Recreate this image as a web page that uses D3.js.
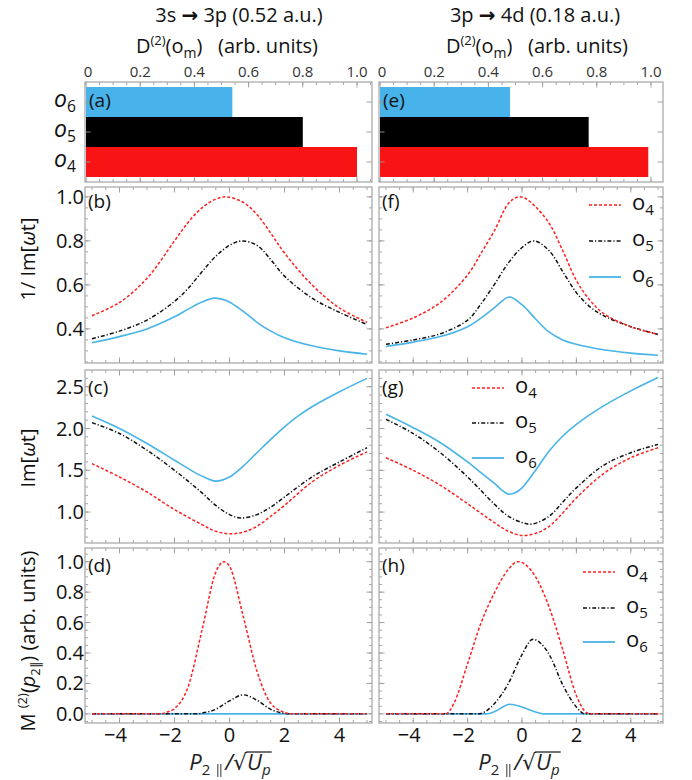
<!DOCTYPE html>
<html>
<head>
<meta charset="utf-8">
<script src="https://cdn.jsdelivr.net/npm/d3@7"></script>
<style>
body { margin: 0; background: #fff; }
</style>
</head>
<body>
<div id="chart-area"></div>
<script>
// ---- data ----
var orders = ["o4", "o5", "o6"];
var barOrder = ["o6", "o5", "o4"];

// D^(2)(o_m), arb. units
var d2_3s3p = [1.0, 0.80, 0.54];
var d2_3p4d = [0.99, 0.77, 0.48];
var d2Ticks = [0, 0.2, 0.4, 0.6, 0.8, 1.0];

// 1/Im[wt] vs p2||/sqrt(Up)
var inv3s_o4 = [[-5, 0.46], [-4, 0.52], [-3, 0.63], [-2, 0.80], [-1.5, 0.885], [-1, 0.95], [-0.5, 0.99], [-0.1, 1.0], [0.5, 0.975], [1, 0.92], [1.5, 0.835], [2, 0.745], [3, 0.60], [4, 0.495], [5, 0.43]];
var inv3s_o5 = [[-5, 0.355], [-4, 0.39], [-3, 0.44], [-2, 0.525], [-1.5, 0.585], [-1, 0.66], [-0.5, 0.73], [0, 0.78], [0.45, 0.80], [1, 0.78], [1.5, 0.715], [2, 0.64], [3, 0.54], [4, 0.475], [5, 0.42]];
var inv3s_o6 = [[-5, 0.337], [-4, 0.365], [-3, 0.40], [-2, 0.455], [-1.5, 0.49], [-1, 0.522], [-0.55, 0.54], [-0.1, 0.528], [0.5, 0.48], [1, 0.43], [1.5, 0.39], [2, 0.36], [3, 0.323], [4, 0.30], [5, 0.285]];
var inv3p_o4 = [[-5, 0.405], [-4, 0.45], [-3, 0.52], [-2, 0.645], [-1.5, 0.745], [-1, 0.85], [-0.5, 0.97], [-0.15, 1.0], [0.1, 0.995], [0.5, 0.955], [1, 0.88], [1.5, 0.755], [2, 0.62], [2.5, 0.53], [3, 0.47], [4, 0.41], [5, 0.375]];
var inv3p_o5 = [[-5, 0.33], [-4, 0.35], [-3, 0.378], [-2, 0.44], [-1.5, 0.515], [-1, 0.605], [-0.5, 0.70], [0, 0.77], [0.45, 0.80], [1, 0.755], [1.5, 0.66], [2, 0.565], [2.5, 0.50], [3, 0.46], [4, 0.41], [5, 0.375]];
var inv3p_o6 = [[-5, 0.32], [-4, 0.34], [-3, 0.365], [-2, 0.41], [-1.5, 0.45], [-1, 0.498], [-0.47, 0.545], [0, 0.51], [0.5, 0.445], [1, 0.385], [1.5, 0.35], [2, 0.33], [3, 0.305], [4, 0.29], [5, 0.28]];

// Im[wt]
var im3s_o4 = [[-5, 1.58], [-4, 1.42], [-3, 1.24], [-2, 1.03], [-1, 0.85], [-0.5, 0.77], [0, 0.74], [0.5, 0.76], [1, 0.83], [1.5, 0.95], [2, 1.08], [3, 1.36], [4, 1.56], [5, 1.72]];
var im3s_o5 = [[-5, 2.07], [-4, 1.94], [-3, 1.74], [-2, 1.50], [-1, 1.23], [-0.5, 1.08], [0, 0.97], [0.4, 0.93], [1, 0.97], [1.5, 1.06], [2, 1.18], [3, 1.42], [4, 1.60], [5, 1.77]];
var im3s_o6 = [[-5, 2.15], [-4, 2.0], [-3, 1.82], [-2, 1.62], [-1.5, 1.52], [-1, 1.43], [-0.5, 1.37], [0, 1.42], [0.5, 1.55], [1, 1.71], [1.5, 1.87], [2, 2.02], [2.5, 2.15], [3, 2.26], [4, 2.44], [5, 2.60]];
var im3p_o4 = [[-5, 1.65], [-4, 1.50], [-3, 1.32], [-2, 1.10], [-1, 0.87], [-0.5, 0.77], [0, 0.72], [0.5, 0.745], [1, 0.83], [1.5, 0.99], [2, 1.17], [3, 1.46], [4, 1.65], [5, 1.77]];
var im3p_o5 = [[-5, 2.11], [-4, 1.94], [-3, 1.71], [-2, 1.42], [-1, 1.09], [-0.5, 0.95], [0, 0.875], [0.36, 0.855], [1, 0.95], [1.5, 1.12], [2, 1.29], [3, 1.56], [4, 1.71], [5, 1.81]];
var im3p_o6 = [[-5, 2.17], [-4, 2.01], [-3, 1.83], [-2, 1.60], [-1.5, 1.47], [-1, 1.34], [-0.75, 1.265], [-0.5, 1.215], [-0.25, 1.23], [0, 1.29], [0.5, 1.50], [1, 1.73], [1.5, 1.91], [2, 2.05], [3, 2.27], [4, 2.45], [5, 2.61]];

// M^(2)(p2||), arb. units
var m3s_o4 = [[-5, 0], [-2.5, 0], [-2.3, 0.01], [-2, 0.035], [-1.5, 0.18], [-1, 0.55], [-0.5, 0.93], [-0.2, 1.0], [0, 0.97], [0.5, 0.64], [1, 0.28], [1.5, 0.07], [2, 0.01], [2.3, 0], [5, 0]];
var m3s_o5 = [[-5, 0], [-1.2, 0], [-1, 0.005], [-0.5, 0.03], [0, 0.085], [0.5, 0.125], [1, 0.09], [1.5, 0.03], [2, 0.003], [2.3, 0], [5, 0]];
var m3s_o6 = [[-5, 0], [0, 0], [5, 0]];
var m3p_o4 = [[-5, 0], [-2.8, 0], [-2.5, 0.07], [-2, 0.33], [-1.5, 0.6], [-1, 0.8], [-0.5, 0.95], [-0.15, 1.0], [0.5, 0.9], [1, 0.7], [1.5, 0.42], [2, 0.12], [2.3, 0.02], [2.5, 0], [5, 0]];
var m3p_o5 = [[-5, 0], [-1.6, 0], [-1, 0.07], [-0.5, 0.2], [0, 0.39], [0.4, 0.49], [1, 0.39], [1.5, 0.19], [2, 0.045], [2.3, 0], [5, 0]];
var m3p_o6 = [[-5, 0], [-1.3, 0], [-1, 0.015], [-0.45, 0.063], [0, 0.045], [0.5, 0.012], [0.8, 0], [5, 0]];

var xTicks = [-4, -2, 0, 2, 4];

// ---- layout ----
var colors = { o4: "#ff1f1f", o5: "#111111", o6: "#48b4e8" };
var barColors = { o4: "#f81414", o5: "#000000", o6: "#47b3ea" };
var dashes = { o4: "3,2", o5: "4,2,1.2,2", o6: null };

var columns = [
    { x0: 85, x1: 372, title: "3s", title2: "3p", energy: "(0.52 a.u.)", bars: d2_3s3p, tags: ["a", "b", "c", "d"],
      series: [[inv3s_o4, inv3s_o5, inv3s_o6], [im3s_o4, im3s_o5, im3s_o6], [m3s_o4, m3s_o5, m3s_o6]] },
    { x0: 379, x1: 663, title: "3p", title2: "4d", energy: "(0.18 a.u.)", bars: d2_3p4d, tags: ["e", "f", "g", "h"],
      series: [[inv3p_o4, inv3p_o5, inv3p_o6], [im3p_o4, im3p_o5, im3p_o6], [m3p_o4, m3p_o5, m3p_o6]] }
];

var lineRows = [
    { y0: 187, y1: 363, domain: [0.245, 1.045], major: [0.4, 0.6, 0.8, 1.0], minor: 0.05, curve: d3.curveCatmullRom.alpha(0.5) },
    { y0: 370, y1: 543, domain: [0.63, 2.7], major: [1.0, 1.5, 2.0, 2.5], minor: 0.1, curve: d3.curveCatmullRom.alpha(0.5) },
    { y0: 548, y1: 723, domain: [-0.06, 1.09], major: [0, 0.2, 0.4, 0.6, 0.8, 1.0], minor: 0.05, curve: d3.curveMonotoneX }
];
var barRow = { y0: 82, y1: 182 };

// legend placement in the right column, offsets from frame
var legends = [
    { x: -74, fromRight: true, y: [18, 54, 90] },
    { x: 93, fromRight: false, y: [18, 53, 88] },
    { x: -80, fromRight: true, y: [24, 60, 94] }
];

var frameColor = "#ababab";
var tickColor = "#9a9a9a";
var mainFont = "'Open Sans', 'DejaVu Sans', sans-serif";
var fmt1 = d3.format(".1f");

var svg = d3.select("#chart-area")
    .append("svg")
    .attr("width", 692)
    .attr("height", 780)
    .style("font-family", mainFont);

function minorValues(domain, step) {
    var start = Math.ceil(domain[0] / step - 1e-9) * step;
    return d3.range(start, domain[1] + 1e-9, step);
}

function drawFrame(g, x0, y0, x1, y1) {
    g.append("rect")
        .attr("x", x0)
        .attr("y", y0)
        .attr("width", x1 - x0)
        .attr("height", y1 - y0)
        .attr("fill", "none")
        .attr("stroke", frameColor)
        .attr("stroke-width", 1.3);
}

// inward ticks on all four sides
function drawTicks(g, xScale, yScale, xMajor, xMinor, yMajor, yMinor, box) {
    var t = g.append("g").attr("stroke", tickColor).attr("stroke-width", 0.9);
    function xt(vals, len) {
        vals.forEach(function (v) {
            var px = xScale(v);
            if (px < box.x0 + 1 || px > box.x1 - 1) return;
            t.append("line").attr("x1", px).attr("x2", px).attr("y1", box.y1).attr("y2", box.y1 - len);
            t.append("line").attr("x1", px).attr("x2", px).attr("y1", box.y0).attr("y2", box.y0 + len);
        });
    }
    function yt(vals, len) {
        vals.forEach(function (v) {
            var py = yScale(v);
            if (py < box.y0 + 1 || py > box.y1 - 1) return;
            t.append("line").attr("y1", py).attr("y2", py).attr("x1", box.x0).attr("x2", box.x0 + len);
            t.append("line").attr("y1", py).attr("y2", py).attr("x1", box.x1).attr("x2", box.x1 - len);
        });
    }
    xt(xMinor, 3);
    xt(xMajor, 5.5);
    yt(yMinor, 3);
    yt(yMajor, 5.5);
}

function orderLabel(g, x, y, order, size, italic, anchor) {
    var txt = g.append("text")
        .attr("x", x)
        .attr("y", y)
        .attr("font-size", size)
        .attr("text-anchor", anchor || "start")
        .attr("fill", "#111");
    txt.append("tspan").attr("font-style", italic ? "italic" : "normal").text("o");
    txt.append("tspan").attr("font-size", size * 0.68).attr("dy", size * 0.22).text(order.slice(1));
    return txt;
}

// ---- titles ----
columns.forEach(function (col, ci) {
    var cx = ci === 0 ? 239 : 535;
    var title = svg.append("text")
        .attr("x", cx)
        .attr("y", 22)
        .attr("text-anchor", "middle")
        .attr("font-size", 20)
        .attr("fill", "#111");
    title.append("tspan").text(col.title + " ");
    title.append("tspan").attr("font-family", "'DejaVu Sans', sans-serif").attr("font-weight", "bold").text("\u2192");
    title.append("tspan").text(" " + col.title2 + " " + col.energy);

    var sub = svg.append("text")
        .attr("x", ci === 0 ? 227 : 537)
        .attr("y", 53)
        .attr("text-anchor", "middle")
        .attr("font-size", 20)
        .attr("fill", "#111");
    sub.append("tspan").text("D");
    sub.append("tspan").attr("font-size", 13).attr("dy", -8).text("(2)");
    sub.append("tspan").attr("dy", 8).text("(o");
    sub.append("tspan").attr("font-size", 14).attr("dy", 5).text("m");
    sub.append("tspan").attr("dy", -5).text(")\u00a0\u00a0\u00a0(arb. units)");
});

// ---- bar panels ----
columns.forEach(function (col, ci) {
    var g = svg.append("g");
    var x = d3.scaleLinear().domain([0, 1]).range([col.x0 + 1, col.x0 + 272]);
    var y = d3.scaleBand().domain(barOrder).range([barRow.y0 + 5, barRow.y1 - 5]).padding(0);
    var box = { x0: col.x0, x1: col.x1, y0: barRow.y0, y1: barRow.y1 };

    g.selectAll(".bar")
        .data(orders.map(function (o, i) { return { order: o, value: col.bars[i] }; }))
        .enter().append("rect")
        .attr("x", x(0))
        .attr("y", function (d) { return y(d.order); })
        .attr("width", function (d) { return x(d.value) - x(0); })
        .attr("height", y.bandwidth())
        .attr("fill", function (d) { return barColors[d.order]; });

    drawTicks(g, x, function (o) { return y(o) + y.bandwidth() / 2; },
        d2Ticks, minorValues([0, 1.05], 0.05), barOrder, [], box);
    drawFrame(g, box.x0, box.y0, box.x1, box.y1);

    g.selectAll(".xlab")
        .data(d2Ticks)
        .enter().append("text")
        .attr("x", function (d) { return x(d) + (d === 0 ? 2 : 0); })
        .attr("y", 77)
        .attr("text-anchor", "middle")
        .attr("font-size", 15)
        .attr("fill", "#333")
        .text(function (d) { return d === 0 ? "0" : fmt1(d); });

    if (ci === 0) {
        barOrder.forEach(function (o) {
            orderLabel(g, 76, y(o) + y.bandwidth() / 2 + 5, o, 23, true, "end");
        });
    }

    g.append("text")
        .attr("x", col.x0 + 4)
        .attr("y", barRow.y0 + 25)
        .attr("font-size", 19)
        .attr("fill", "#111")
        .text("(" + col.tags[0] + ")");
});

// ---- line panels ----
columns.forEach(function (col, ci) {
    var x = d3.scaleLinear().domain([-5, 5]).range([col.x0 + 7, col.x1 - 5]);

    lineRows.forEach(function (row, ri) {
        var g = svg.append("g");
        var y = d3.scaleLinear().domain(row.domain).range([row.y1, row.y0]);
        var box = { x0: col.x0, x1: col.x1, y0: row.y0, y1: row.y1 };
        var clipId = "clip_" + ci + "_" + ri;

        svg.append("clipPath").attr("id", clipId)
            .append("rect")
            .attr("x", box.x0).attr("y", box.y0)
            .attr("width", box.x1 - box.x0).attr("height", box.y1 - box.y0);

        drawTicks(g, x, y, xTicks, minorValues([-5.3, 5.3], 0.5),
            row.major, minorValues(row.domain, row.minor), box);
        drawFrame(g, box.x0, box.y0, box.x1, box.y1);

        var line = d3.line()
            .x(function (d) { return x(d[0]); })
            .y(function (d) { return y(d[1]); })
            .curve(row.curve);

        // o6 underneath, o4 on top
        [2, 1, 0].forEach(function (si) {
            var o = orders[si];
            g.append("path")
                .datum(col.series[ri][si])
                .attr("d", line)
                .attr("clip-path", "url(#" + clipId + ")")
                .attr("fill", "none")
                .attr("stroke", colors[o])
                .attr("stroke-width", o === "o6" ? 1.6 : 1.5)
                .attr("stroke-dasharray", dashes[o]);
        });

        if (ci === 0) {
            g.selectAll(".ylab")
                .data(row.major)
                .enter().append("text")
                .attr("x", col.x0 - 1)
                .attr("y", function (d) { return y(d) + 7; })
                .attr("text-anchor", "end")
                .attr("font-size", 20)
                .attr("fill", "#111")
                .text(fmt1);
        }

        if (ri === 2) {
            g.selectAll(".xlab")
                .data(xTicks)
                .enter().append("text")
                .attr("x", function (d) { return x(d) - (d < 0 ? 4 : 0); })
                .attr("y", 742)
                .attr("text-anchor", "middle")
                .attr("font-size", 20)
                .attr("fill", "#111")
                .text(function (d) { return d < 0 ? "\u2212" + Math.abs(d) : String(d); });
        }

        g.append("text")
            .attr("x", col.x0 + 3)
            .attr("y", row.y0 + (ri === 0 ? 21 : 24))
            .attr("font-size", 19)
            .attr("fill", "#111")
            .text("(" + col.tags[ri + 1] + ")");

        if (ci === 1) {
            var lg = legends[ri];
            var lx = lg.fromRight ? col.x1 + lg.x : col.x0 + lg.x;
            orders.forEach(function (o, i) {
                var ly = row.y0 + lg.y[i];
                g.append("line")
                    .attr("x1", lx).attr("x2", lx + 32)
                    .attr("y1", ly).attr("y2", ly)
                    .attr("stroke", colors[o])
                    .attr("stroke-width", o === "o6" ? 1.8 : 1.6)
                    .attr("stroke-dasharray", dashes[o]);
                orderLabel(g, lx + 43, ly + 5, o, 22, false, "start");
            });
        }
    });
});

// ---- axis titles ----
function rotatedLabel(cx, cy) {
    return svg.append("text")
        .attr("transform", "translate(" + cx + "," + cy + ") rotate(-90)")
        .attr("text-anchor", "middle")
        .attr("font-size", 20)
        .attr("fill", "#111");
}

var l1 = rotatedLabel(35, 259);
l1.append("tspan").text("1/ Im[");
l1.append("tspan").attr("font-style", "italic").text("\u03c9");
l1.append("tspan").text("t]");

var l2 = rotatedLabel(35, 458);
l2.append("tspan").text("Im[");
l2.append("tspan").attr("font-style", "italic").text("\u03c9");
l2.append("tspan").text("t]");

var l3 = rotatedLabel(35, 641);
l3.append("tspan").text("M ");
l3.append("tspan").attr("font-size", 13).attr("dy", -8).text("(2)");
l3.append("tspan").attr("dy", 8).text("(");
l3.append("tspan").attr("font-style", "italic").text("p");
l3.append("tspan").attr("font-size", 13).attr("dy", 5).text("2");
l3.append("tspan").attr("font-size", 13).attr("font-family", "'DejaVu Sans', sans-serif").text("\u2225");
l3.append("tspan").attr("dy", -5).text(") (arb. units)");

columns.forEach(function (col, ci) {
    var cx = ci === 0 ? 230 : 519;
    var t = svg.append("text")
        .attr("x", cx)
        .attr("y", 770)
        .attr("text-anchor", "middle")
        .attr("font-size", 22)
        .attr("font-style", "italic")
        .attr("fill", "#222");
    t.append("tspan").text("P");
    // the "2 ||" subscript; the double bar is drawn as two strokes below
    t.append("tspan").attr("font-size", 15).attr("font-style", "normal").attr("dy", 5).text("2\u2002\u2002");
    t.append("tspan").attr("dy", -5).text("/");
    t.append("tspan").attr("font-style", "normal").attr("font-family", "'DejaVu Sans', sans-serif").text("\u221a");
    t.append("tspan").text("U");
    t.append("tspan").attr("font-size", 15).attr("dy", 5).text("p");

    var node = t.node();
    var full = node.getBBox();
    var txt = node.textContent;

    // double vertical bar of the subscript
    var sp = node.getExtentOfChar(txt.indexOf("\u2002") + 1);
    [0, 3].forEach(function (off) {
        svg.append("line")
            .attr("x1", sp.x + off).attr("x2", sp.x + off)
            .attr("y1", 764).attr("y2", 777)
            .attr("stroke", "#333")
            .attr("stroke-width", 1);
    });

    // vinculum of the square root
    var ext = node.getExtentOfChar(txt.indexOf("\u221a"));
    svg.append("line")
        .attr("x1", ext.x + ext.width - 1)
        .attr("x2", full.x + full.width + 1)
        .attr("y1", ext.y + 2)
        .attr("y2", ext.y + 2)
        .attr("stroke", "#222")
        .attr("stroke-width", 1.3);
});
</script>
</body>
</html>
